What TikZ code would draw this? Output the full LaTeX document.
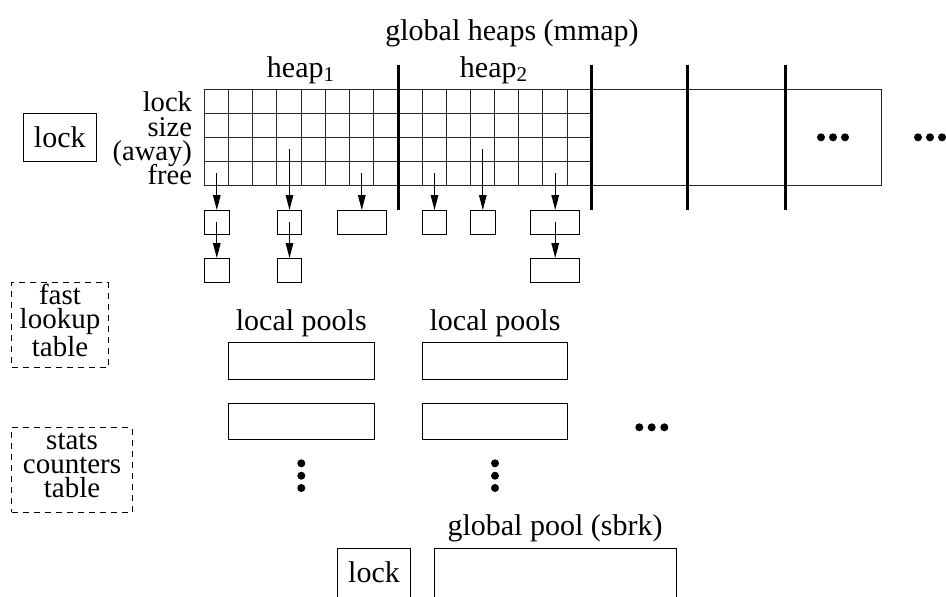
\documentclass[tikz,border=0pt]{standalone}
\usepackage{fontspec}
\setmainfont{Liberation Serif}
\usetikzlibrary{arrows.meta,positioning}
\begin{document}
\begin{tikzpicture}[x=0.5pt, y=-0.5pt,
    every node/.style={inner sep=0pt, outer sep=0pt},
    txt/.style={font=\fontsize{15}{18}\selectfont, anchor=base},
    rowlbl/.style={font=\fontsize{14.3}{14}\selectfont, anchor=base east},
    cell/.style={line width=0.5pt, black!85},
    sep/.style={line width=1.5pt},
    slot/.style={draw, line width=0.5pt, minimum width=12.3pt, minimum height=12pt},
    wideslot/.style={slot, minimum width=24.3pt},
    pool/.style={draw, line width=0.5pt, minimum width=72.7pt, minimum height=18.2pt},
    lockbox/.style={draw, line width=0.5pt, font=\fontsize{15}{18}\selectfont},
    tablebox/.style={draw, dash pattern=on 3pt off 2.5pt, line width=0.5pt, align=center,
        font=\fontsize{14.5}{12}\selectfont, text depth=4.8pt, minimum height=42.2pt},
    ptr/.style={-{Triangle[length=7.5pt, width=3.8pt]}, line width=0.5pt}]
    \useasboundingbox (0,0) rectangle (946,596);
    % Titles
    \node[txt] (title) at (512,40) {global heaps (mmap)};
    \node[txt] (heap1) at (301,77) {heap\textsubscript{1}};
    \node[txt] (heap2) at (494,77) {heap\textsubscript{2}};
    % Heap cells
    \foreach \i in {1,...,15}
        \draw[cell] ({204.3+24.19*\i},89.3) -- ({204.3+24.19*\i},185.7);
    \foreach \y in {113.5,137.5,161.5}
        \draw[cell] (204.3,\y) -- (591.3,\y);
    \draw[cell] (204.3,89.3) rectangle (881.7,185.7);
    % Heap boundaries
    \foreach \x in {398,591.3,687.7,785}
        \draw[sep] (\x,64.7) -- (\x,210);
    % Row labels
    \foreach \y/\t [count=\k] in {111.7/lock, 136/size, 160/{(away)}, 184/free}
        \node[rowlbl] (row\k) at (192,\y) {\t};
    \node[lockbox, minimum width=36.5pt, minimum height=23.9pt] (lock) at (59.8,137.2) {lock};
    % Free lists
    \foreach \n/\x/\y/\k in {a/216.8/173/slot, b/289.5/149/slot, c/361.8/173/wideslot,
                             d/434.5/173/slot, e/482.8/149/slot, f/555.2/173/wideslot} {
        \coordinate (\n0) at (\x,\y);
        \node[\k] (\n1) at (\x,222) {};
        \draw[ptr] (\n0) -- (\n1.north);
    }
    \foreach \n/\k in {a/slot, b/slot, f/wideslot} {
        \node[\k, below=12pt of \n1] (\n2) {};
        \draw[ptr] (\n1.center) -- (\n2.north);
    }
    % More heaps
    \foreach \x in {821,833,845,918,930,942}
        \fill (\x,137.3) circle (2pt);
    % Tables
    \node[tablebox, minimum width=48.3pt] (fast) at (60,324.8) {fast\\lookup\\table};
    \node[tablebox, minimum width=60.3pt] (stats) at (72,469.8) {stats\\counters\\table};
    % Local pools
    \foreach \x [count=\k] in {301.3,495} {
        \node[txt] (lp\k) at (\x,330.7) {local pools};
        \node[pool] (pa\k) at (\x,360.8) {};
        \node[pool] (pb\k) at (\x,421.5) {};
        \foreach \y in {463.3,475.7,488}
            \fill (\x,\y) circle (2pt);
    }
    \foreach \x in {639.3,651.7,664.3}
        \fill (\x,427.3) circle (2pt);
    % Global pool
    \node[txt] (gp) at (555,535) {global pool (sbrk)};
    \node[lockbox, minimum width=36.3pt, minimum height=30pt, text depth=6pt] (glock) at (374,578.3) {lock};
    \node[lockbox, minimum width=121pt, minimum height=30pt] (gpool) at (555.3,578.3) {};
\end{tikzpicture}
\end{document}
